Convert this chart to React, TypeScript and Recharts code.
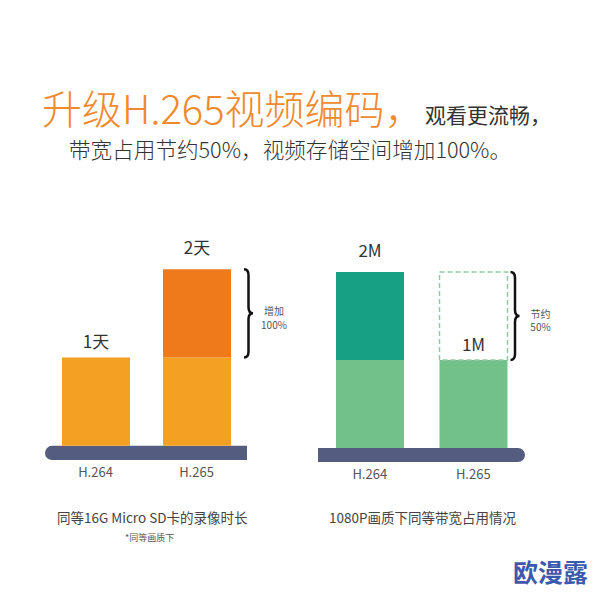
import React from 'react';
import { BarChart, Bar, XAxis, YAxis, ReferenceArea, LabelList } from 'recharts';

// categories and values
const codecs = ['H.264', 'H.265'];
const recordDays = [1, 2]; // 同等16G卡的录像时长（天）
const dayLabels = ['1天', '2天'];
const bitrates = [2, 1]; // 1080P 带宽占用（M）
const bitrateLabels = ['2M', '1M'];
const storageNote = ['增加', '100%'];
const bandwidthNote = ['节约', '50%'];

const FONT = '"Noto Sans CJK SC", "Liberation Sans", sans-serif';

interface Row {
  name: string;
  base: number;
  extra: number;
  saved: number;
  label: string;
  noteTop: string;
  noteBottom: string;
}

// the shared part is the smaller value; the rest is stacked on top (or drawn dashed when saved)
const buildRows = (values: number[], labels: string[], note: string[], withSaved: boolean): Row[] => {
  const lo = Math.min(...values);
  const hi = Math.max(...values);
  return codecs.map((name, i) => ({
    name,
    base: lo,
    extra: values[i] - lo,
    saved: withSaved ? hi - values[i] : 0,
    label: labels[i],
    noteTop: i === 1 ? note[0] : '',
    noteBottom: i === 1 ? note[1] : '',
  }));
};

const storageRows = buildRows(recordDays, dayLabels, storageNote, false);
const bandwidthRows = buildRows(bitrates, bitrateLabels, bandwidthNote, true);

const box = (p: any) => (p.viewBox && p.viewBox.width !== undefined ? p.viewBox : p);

// value label above the filled part of a stack
const valueLabel = (rows: Row[], series: 'base' | 'extra') => (props: any) => {
  const row = rows.find((r) => r.label === props.value);
  if (!row) return null;
  const onThis = series === 'extra' ? row.extra > 0 : row.extra === 0;
  if (!onThis) return null;
  const { x, y, width } = box(props);
  const off = series === 'extra' ? 21 : 15;
  return (
    <text x={x + width / 2} y={y - off} dy="0.35em" textAnchor="middle" fill="#333" fontSize={17} fontFamily={FONT}>
      {row.label}
    </text>
  );
};

// curly brace to the right of a segment, with a two line note
const braceLabel = (rows: Row[], gap: number) => (props: any) => {
  const row = rows.find((r) => r.noteTop && r.noteTop === props.value);
  if (!row) return null;
  const { x, y, width, height } = box(props);
  const x0 = x + width + gap;
  const w = 9;
  const xm = x0 + w / 2;
  const y0 = y;
  const y1 = y + height;
  const ym = (y0 + y1) / 2;
  const r = 6;
  const d = `M${x0},${y0} Q${xm},${y0} ${xm},${y0 + r} L${xm},${ym - r} Q${xm},${ym} ${x0 + w},${ym} Q${xm},${ym} ${xm},${ym + r} L${xm},${y1 - r} Q${xm},${y1} ${x0},${y1}`;
  const tx = x0 + w + 21;
  return (
    <g>
      <path d={d} fill="none" stroke="#111" strokeWidth={2.5} />
      <text x={tx} y={ym + 2} textAnchor="middle" fill="#555" fontSize={10} fontFamily={FONT}>
        {row.noteTop}
      </text>
      <text x={tx} y={ym + 15.5} textAnchor="middle" fill="#555" fontSize={10} fontFamily={FONT}>
        {row.noteBottom}
      </text>
    </g>
  );
};

// thick base bar under the columns, rounded on one end
const baseBar = (roundLeft: boolean) => (props: any) => {
  const { x, y, width, height } = props;
  const r = height / 2;
  const d = roundLeft
    ? `M${x + r},${y} L${x + width},${y} L${x + width},${y + height} L${x + r},${y + height} A${r},${r} 0 0 1 ${x + r},${y} Z`
    : `M${x},${y} L${x + width - r},${y} A${r},${r} 0 0 1 ${x + width - r},${y + height} L${x},${y + height} Z`;
  return <path d={d} fill="#545D7F" />;
};

interface PanelProps {
  rows: Row[];
  left: number;
  margin: { top: number; right: number; bottom: number; left: number };
  baseColor: string;
  extraColor: string;
  roundLeft: boolean;
  braceOn: 'extra' | 'saved';
  braceGap: number;
}

const Panel: React.FC<PanelProps> = ({ rows, left, margin, baseColor, extraColor, roundLeft, braceOn, braceGap }) => (
  <div style={{ position: 'absolute', left, top: 200 }}>
    <BarChart width={297} height={300} data={rows} margin={margin} barSize={68}>
      <XAxis
        dataKey="name"
        axisLine={false}
        tickLine={false}
        height={30}
        tick={{ fill: '#555', fontSize: 13, fontFamily: FONT }}
      />
      <YAxis hide type="number" domain={[-0.16, 2.5]} />
      <ReferenceArea y1={-0.16} y2={0} shape={baseBar(roundLeft)} ifOverflow="visible" />
      <Bar dataKey="base" stackId="a" fill={baseColor} isAnimationActive={false}>
        <LabelList dataKey="label" content={valueLabel(rows, 'base')} />
      </Bar>
      <Bar dataKey="extra" stackId="a" fill={extraColor} isAnimationActive={false}>
        <LabelList dataKey="label" content={valueLabel(rows, 'extra')} />
        {braceOn === 'extra' && <LabelList dataKey="noteTop" content={braceLabel(rows, braceGap)} />}
      </Bar>
      <Bar
        dataKey="saved"
        stackId="a"
        fill="none"
        stroke="#8FCBA6"
        strokeWidth={1.5}
        strokeDasharray="5 3"
        isAnimationActive={false}
      >
        {braceOn === 'saved' && <LabelList dataKey="noteTop" content={braceLabel(rows, braceGap)} />}
      </Bar>
    </BarChart>
  </div>
);

const abs = (left: number, top: number, size: number, color: string, extra: React.CSSProperties = {}): React.CSSProperties => ({
  position: 'absolute',
  left,
  top,
  fontSize: size,
  lineHeight: 1,
  height: size,
  color,
  fontFamily: FONT,
  whiteSpace: 'nowrap',
  ...extra,
});

export default function App() {
  return (
    <div style={{ position: 'absolute', left: 0, top: 0, width: 594, height: 592, background: '#fff', overflow: 'hidden' }}>
      <div style={abs(42, 87, 40, '#F08A2E', { fontWeight: 300 })}>升级H.265视频编码，</div>
      <div style={abs(425, 104, 21, '#333')}>观看更流畅，</div>
      <div style={abs(69, 138, 21.6, '#333', { fontWeight: 300 })}>带宽占用节约50%，视频存储空间增加100%。</div>

      <Panel
        rows={storageRows}
        left={0}
        margin={{ top: 25, right: 50, bottom: 10, left: 45 }}
        baseColor="#F4A023"
        extraColor="#EE7A1C"
        roundLeft
        braceOn="extra"
        braceGap={13}
      />
      <Panel
        rows={bandwidthRows}
        left={297}
        margin={{ top: 28, right: 69, bottom: 8, left: 21 }}
        baseColor="#72C18B"
        extraColor="#17A084"
        roundLeft={false}
        braceOn="saved"
        braceGap={3}
      />

      <div style={abs(57, 511, 13.5, '#444')}>同等16G Micro SD卡的录像时长</div>
      <div style={abs(125, 533, 9, '#555')}>*同等画质下</div>
      <div style={abs(329, 511, 13.5, '#444')}>1080P画质下同等带宽占用情况</div>
      <div style={abs(513, 559, 25, '#3B5AAE', { fontWeight: 700 })}>欧漫露</div>
    </div>
  );
}
